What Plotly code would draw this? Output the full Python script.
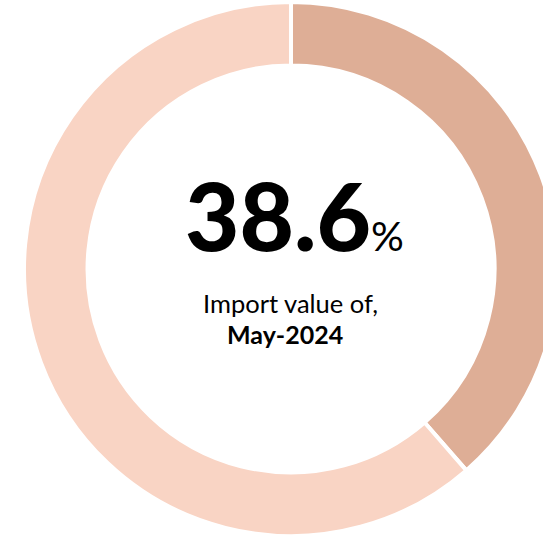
import plotly.graph_objects as go

labels = ['May-2024', 'Other']
values = [38.6, 61.4]
colors = ['#DEAE96', '#F9D4C4']
big_value = '38.6'
caption = 'Import value of,'
period = 'May-2024'

W, H = 560, 536
font = 'Lato, "Open Sans", sans-serif'

fig = go.Figure()

fig.add_trace(go.Pie(
  labels=labels,
  values=values,
  hole=0.762,
  sort=False,
  direction='clockwise',
  rotation=0,
  marker=dict(colors=colors, line=dict(color='white', width=4)),
  textinfo='none',
  hoverinfo='label+percent',
  showlegend=False,
  domain=dict(x=[24 / W, 558 / W], y=[0, 1 - 2 / H]),
))

fig.add_annotation(
  x=294 / W, y=1 - 214 / H, xref='paper', yref='paper',
  text=big_value + '<span style="font-size:41px;font-weight:400">%</span>',
  showarrow=False, font=dict(family=font, size=94, color='black', weight=900),
  xanchor='center', yanchor='middle',
)
fig.add_annotation(
  x=290 / W, y=1 - 303 / H, xref='paper', yref='paper',
  text=caption, showarrow=False,
  font=dict(family=font, size=25.5, color='black'),
  xanchor='center', yanchor='middle',
)
fig.add_annotation(
  x=285 / W, y=1 - 334 / H, xref='paper', yref='paper',
  text='<b>' + period + '</b>', showarrow=False,
  font=dict(family=font, size=25, color='black'),
  xanchor='center', yanchor='middle',
)

fig.update_layout(
  width=W,
  height=H,
  margin=dict(l=0, r=0, t=0, b=0, pad=0),
  paper_bgcolor='white',
  plot_bgcolor='white',
)

fig.write_html(
  'out.html',
  config={'displayModeBar': False},
  post_script="document.body.style.margin='0';document.body.style.overflow='hidden';document.documentElement.style.overflow='hidden';",
)
